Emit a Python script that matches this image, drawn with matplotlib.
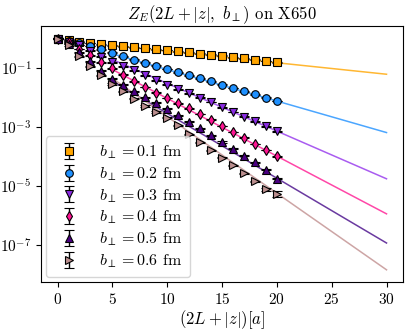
import numpy as np
import matplotlib
matplotlib.use("Agg")
import matplotlib.pyplot as plt

plt.rcParams['font.family'] = 'serif'
plt.rcParams['font.serif'] = ['cmr10']
plt.rcParams['mathtext.fontset'] = 'cm'
plt.rcParams['axes.formatter.use_mathtext'] = True

# separations 2L+|z| in lattice units
z = np.arange(0, 21)

# log10 of Z_E
logZ_01 = [0, -0.04, -0.10, -0.15, -0.19, -0.23, -0.26, -0.29, -0.32, -0.36, -0.39,
           -0.43, -0.47, -0.51, -0.55, -0.58, -0.63, -0.67, -0.72, -0.76, -0.81]
logZ_02 = [0, -0.07, -0.14, -0.25, -0.37, -0.48, -0.60, -0.72, -0.82, -0.92, -1.03,
           -1.14, -1.24, -1.35, -1.45, -1.57, -1.68, -1.79, -1.89, -2.00, -2.12]
logZ_03 = [0, -0.10, -0.22, -0.41, -0.62, -0.80, -0.94, -1.08, -1.25, -1.42, -1.57,
           -1.72, -1.86, -2.01, -2.15, -2.33, -2.49, -2.65, -2.81, -2.98, -3.15]
logZ_04 = [0, -0.13, -0.35, -0.57, -0.81, -1.01, -1.23, -1.45, -1.64, -1.84, -2.02,
           -2.20, -2.37, -2.56, -2.75, -2.97, -3.17, -3.37, -3.58, -3.78, -4.00]
logZ_05 = [0, -0.17, -0.46, -0.77, -1.09, -1.36, -1.57, -1.79, -1.99, -2.18, -2.38,
           -2.60, -2.82, -3.05, -3.28, -3.51, -3.74, -3.97, -4.20, -4.46, -4.75]
logZ_06 = [0, -0.22, -0.60, -0.94, -1.25, -1.54, -1.79, -2.04, -2.29, -2.49, -2.69,
           -2.95, -3.25, -3.52, -3.79, -4.04, -4.30, -4.57, -4.85, -5.11, -5.27]

# relative errors (mostly tiny, last b=0.6 points larger)
rel_err = [0.03, 0.03, 0.03, 0.03, 0.04, 0.05]
rel_err_06_tail = [0.12, 0.25]

# exponential fit lines: log10 Z at z = 5 and z = 30
fit_z = [5, 30]
fit_01 = [-0.235, -1.21]
fit_02 = [-0.515, -3.19]
fit_03 = [-0.71, -4.76]
fit_04 = [-1.05, -5.95]
fit_05 = [-1.44, -6.94]
fit_06 = [-1.35, -7.85]

labels = ['0.1', '0.2', '0.3', '0.4', '0.5', '0.6']
colors = ['#FFA500', '#1E90FF', '#8A2BE2', '#FF1493', '#4B0082', '#BC8F8F']
line_colors = ['#FFB732', '#4BA6FF', '#A95CF0', '#FF47A8', '#6A3AA0', '#CDA5A5']
markers = ['s', 'o', 'v', 'd', '^', '>']

data = [logZ_01, logZ_02, logZ_03, logZ_04, logZ_05, logZ_06]
fits = [fit_01, fit_02, fit_03, fit_04, fit_05, fit_06]

fig = plt.figure(figsize=(4.15, 3.32), dpi=100)
ax = fig.add_axes([0.099, 0.151, 0.872, 0.771])

for i in range(6):
    y = 10.0**np.array(data[i])
    err = y * rel_err[i]
    if i == 5:
        err[-2] = y[-2] * rel_err_06_tail[0]
        err[-1] = y[-1] * rel_err_06_tail[1]
    ax.plot(fit_z, 10.0**np.array(fits[i]), color=line_colors[i], lw=1.1, zorder=1)
    ax.errorbar(z, y, yerr=err, fmt=markers[i], color=colors[i], mec='black', mew=0.8,
                ms=5.5, ecolor='black', elinewidth=1, capsize=3.5, zorder=3,
                label=r'$b_\perp = %s$ fm' % labels[i])

ax.set_yscale('log')
ax.set_xlim(-1.5, 31.5)
ax.set_ylim(5.5e-9, 2.7)
ax.set_yticks([1e-1, 1e-3, 1e-5, 1e-7])
ax.yaxis.set_minor_locator(matplotlib.ticker.NullLocator())
ax.set_xticks([0, 5, 10, 15, 20, 25, 30])
ax.tick_params(labelsize=11)
ax.set_xlabel(r'$(2L+|z|)[a]$', fontsize=12, labelpad=1)
ax.set_title(r'$Z_E(2L+|z|,\ b_\perp)$ on X650', fontsize=12, pad=5)
ax.legend(loc='lower left', fontsize=11.5, handlelength=2.0, handletextpad=0.9,
          labelspacing=0.25, borderaxespad=0.3, borderpad=0.45)

fig.savefig('out.png', dpi=100)
